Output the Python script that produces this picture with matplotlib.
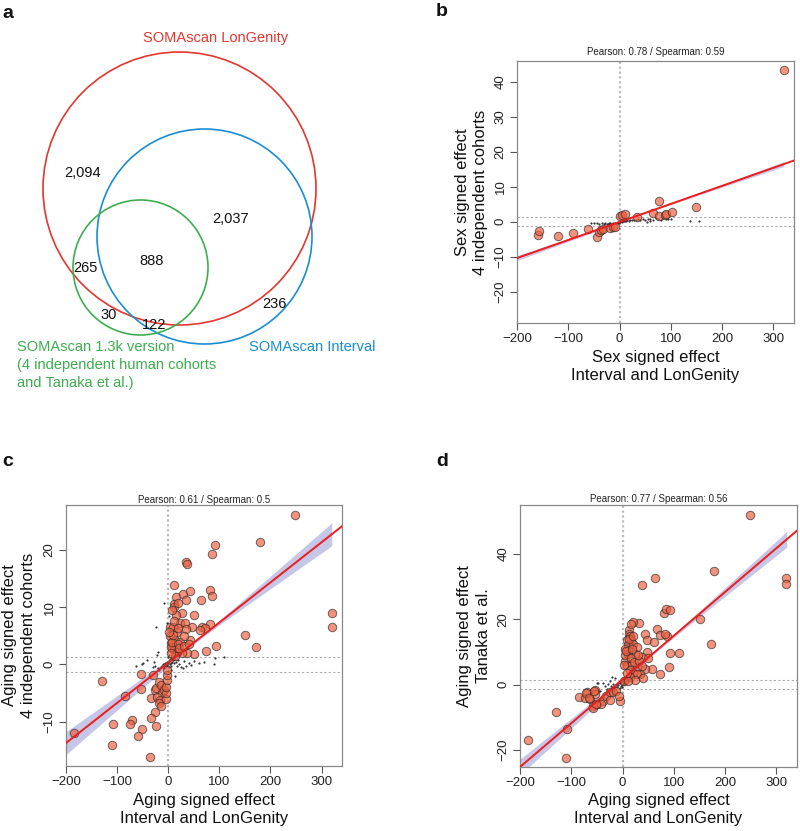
import numpy as np
import matplotlib
matplotlib.use("Agg")
import matplotlib.pyplot as plt
from matplotlib.patches import Circle

plt.rcParams['font.family'] = ['Liberation Sans', 'DejaVu Sans']

W, H = 800, 831

# ---------------- Data ----------------
venn_counts = {"2,094": "L", "2,037": "LI", "888": "LIS", "265": "LS", "30": "S", "122": "IS", "236": "I"}
venn_labels = ["SOMAscan LonGenity", "SOMAscan Interval",
               "SOMAscan 1.3k version\n(4 independent human cohorts\nand Tanaka et al.)"]

# Panel b: sex signed effect
b_sig_x = [320, -160, -157, -120, -90, -62, -45, -41, -37, -32, -19, -13, -9, 0, 5, 10, 33, 66, 76, 77, 88, 91, 102, 149]
b_sig_y = [43.4, -3.7, -2.8, -4.0, -3.2, -2.1, -4.4, -2.9, -2.3, -2.1, -1.8, -1.6, -1.4, 1.5, 1.9, 2.1, 1.3, 2.5, 5.8, 1.7, 1.8, 2.2, 2.8, 4.3]
b_ns_x = [-55, -50, -45, -40, -35, -30, -28, -25, -22, -20, -18, -15, -12, -10, -8, -6, -4, -2, 0, 2, 4, 6, 8, 10,
          12, 15, 18, 20, 24, 28, 32, 36, 40, 45, 50, 55, 60, 65, 70, 75, 80, 85, 90, 95, 100, 137, 155, 53, 59]
b_ns_y = [-0.3, -0.5, -0.4, -0.6, -0.5, -0.7, -0.4, -0.6, -0.8, -0.5, -0.3, -0.6, -0.4, -0.7, -0.3, -0.5, -0.2, -0.4,
          -0.1, 0.1, 0.0, 0.2, 0.1, 0.3, 0.2, 0.4, 0.3, 0.5, 0.4, 0.6, 0.5, 0.7, 0.6, 0.8, 0.5, 0.9, 0.7, 0.4, 1.0,
          0.8, 0.6, 1.1, 0.9, 0.7, 0.8, 0.3, 0.3, 0.0, 0.1]
b_title = "Pearson: 0.78 / Spearman: 0.59"
b_fit = (-0.07, 0.0517)        # intercept, slope
b_band = (0.15, 0.7)           # half width at centre, at ends

# Panel c: aging, 4 independent cohorts
c_sig_x = [249, 180, 92, 85, 34, 37, 11, 16, 28, 43, 81, 86, 64, 34, 11, 12, 26, 50, 16, 24, 32, 81, 67, 71, 46, 62,
           3, 9, 17, 34, 14, 24, 43, 150, 3, 6, 8, 93, 172, 73, 50, 37, 27, 11, 17, 14, 320, 320,
           -30, -53, -130, -54, -85, -33, -26, -24, -19, -15, -12, -9, -22, -17, -19, -15, -25, -34, -24, -4, -4, -5,
           -2, -2, -3, -71, -74, -109, -52, -60, -185, -110, -36,
           5, 8, 10, 19, 22, 30, 40, 12, 20, 5, 30, 2, 7, 20]
c_sig_y = [26.1, 21.3, 20.8, 19.2, 17.9, 17.6, 13.8, 11.8, 12.2, 12.8, 12.9, 12.0, 11.3, 11.2, 10.5, 10.1, 9.0, 8.7,
           8.7, 7.3, 7.2, 7.0, 6.6, 6.3, 6.6, 6.0, 6.5, 6.6, 5.7, 6.2, 4.3, 4.0, 4.3, 5.1, 4.9, 3.7, 2.8, 3.2, 3.1,
           2.4, 1.8, 2.0, 2.0, 2.5, 2.2, 1.4, 9.0, 6.6,
           -1.9, -1.6, -2.9, -4.2, -5.5, -5.9, -4.4, -4.1, -3.0, -3.6, -5.0, -4.4, -5.6, -6.2, -6.7, -7.3, -8.3, -9.4,
           -10.7, -6.1, -5.0, -3.9, -2.7, -1.8, -0.9, -9.6, -10.4, -10.4, -11.3, -12.4, -12.0, -14.0, -16.2,
           3.0, 4.0, 5.2, 3.5, 2.8, 3.3, 3.6, 7.5, 6.4, 2.0, 5.0, 5.7, 9.5, 10.8]
c_ns_x = [-9, -24, 1, -2, -20, -22, -41, -64, -49, -52, 89, 91, 110, 29, 13,
          -15, -12, -10, -8, -6, -5, -3, -2, 0, 1, 2, 3, 4, 5, 6, 7, 8, 10, 12, 14, 16, 18, 20, 22, 25,
          -18, -20, -25, -30, -28, 0, 2, -1, 5, 30, 35, 40, 45, 50, 60, 70]
c_ns_y = [10.8, 6.5, 8.5, 7.2, 2.1, 1.6, 0.7, -0.2, 0.2, 0.1, 0.0, 1.2, 1.3, -0.7, -2.0,
          -0.5, -0.2, 0.0, -0.6, 0.3, -0.3, 0.5, -0.1, 0.2, -0.4, 0.6, 0.0, 0.9, 0.3, -0.2, 1.1, 0.5, 0.8, 0.2,
          1.0, 0.4, -0.3, 0.7, 0.1, -0.5, -1.0, -0.7, -0.2, -0.4, 0.4, 1.3, 1.6, -1.2, -1.0, 0.6, -0.2, 0.3,
          -0.1, 0.6, 0.2, 0.4]
c_title = "Pearson: 0.61 / Spearman: 0.5"
c_fit = (0.3, 0.070)
c_band = (0.3, 2.0)

# Panel d: aging, Tanaka et al.
d_sig_x = [248.5, 179, 319, 319, 64, 37, 81, 84.6, 92, 150, 172, 109, 92, 90, 73, 57, 68, 73.5, 86, 82.6, 32.5, 21,
           43.6, 48, 61, 47, 38, 50, 43.6, 34,
           12.4, 11.7, 14.3, 16.9, 7.8, 11, 20.8, 27.3, 24, 10.4, 4.6, 7.8, 17.6, 27.3, 14.3, 20.8, 9.8, 5.2, 15.6,
           22.8, 32.5, 37.7, 28.6, 14.3, 16, 12, 5, 3, 8, 2, 25, 40, 10, 30, 20, 6, 18,
           -185, -130, -109, -110.6, -84.6, -73.5, -64, -57, -70, -54, -54, -71.6, -56, -66, -58.6, -49.6, -38,
           -32.6, -24.8, -24.8, -19.6, -13.8, -5.3, -7.2, -42, -52]
d_sig_y = [52, 34.8, 32.6, 30.7, 32.8, 30.4, 22, 23.3, 23, 20, 12.6, 9.8, 9.8, 5.4, 3.2, 4.7, 17, 15.1, 15, 15.6,
           18.9, 19.1, 15.4, 13.6, 13.1, 10, 8.5, 8.2, 4.7, 3.4,
           16.8, 15.6, 14.8, 13.6, 13.6, 12.0, 12.3, 11.5, 9.5, 9.5, 7.4, 5.9, 6.4, 5.4, 4.4, 3.6, 10.5, 9.0, 8.3,
           6.9, 7.4, 5.6, 3.4, 2.3, 18.5, 14, 11, 6, 3.5, 1, 1.5, 2, 1.2, 9, 15, 10.3, 10.8,
           -17, -8.4, -13.5, -22.3, -3.9, -4.1, -4.3, -6.6, -2.2, -1.7, -3.0, -2.6, -2.0, -4.2, -7.0, -6.0, -5.1,
           -3.4, -4.8, -2.3, -2.3, -2.0, -5.1, -3.4, -6.0, -5.8]
d_ns_x = [-38, -35, -30, -28, -25, -22, -20, -18, -16, -14, -12, -10, -9, -8, -6, -5, -4, -3, -2, -1, 0, 1, 2, 3,
          4, 5, 6, 7, 8, 10, -50, -45, -15, -20, 12, 15, -25, -48]
d_ns_y = [0.5, -0.5, -1.2, 0.2, -1.6, -0.4, -1.0, 0.3, -0.6, -1.3, 0.0, -0.8, 0.6, -0.2, -1.0, 0.4, -0.4, 1.0, 0.0,
          -0.6, 0.5, 1.2, 0.2, 1.8, 0.8, 2.3, 1.4, 0.4, 1.9, 1.0, 0.5, -2.0, 1.9, 2.3, 2.5, 1.6, 1.0, 0.4]
d_title = "Pearson: 0.77 / Spearman: 0.56"
d_fit = (1.6, 0.134)
d_band = (0.4, 2.4)

x_ticks = [-200, -100, 0, 100, 200, 300]
b_yticks = [-20, -10, 0, 10, 20, 30, 40]
c_yticks = [-10, 0, 10, 20]
d_yticks = [-20, 0, 20, 40]
sig_thr = 1.3

# ---------------- Figure ----------------
fig = plt.figure(figsize=(W / 100, H / 100), dpi=100)

def fx(x):
    return x / W

def fy(y):
    return 1 - y / H

# Background axes in pixel coordinates for the Venn diagram
bg = fig.add_axes([0, 0, 1, 1])
bg.set_xlim(0, W)
bg.set_ylim(H, 0)
bg.axis('off')

red_c, blue_c, green_c = '#E2372F', '#1A8DD3', '#3DAE4F'
circles = [((179.5, 188.5), 136.5, red_c), ((204.5, 236.5), 107.5, blue_c), ((140.5, 267.5), 67.5, green_c)]
for (cx, cy), r, col in circles:
    bg.add_patch(Circle((cx, cy), r, fill=False, edgecolor=col, lw=1.2))

count_pos = [(83, 173), (231, 219), (152, 261), (85, 268), (109, 315), (154, 325), (274, 304)]
for (lab, _), (px, py) in zip(venn_counts.items(), count_pos):
    bg.text(px, py, lab, ha='center', va='center', fontsize=10.5, color='#111111')

bg.text(216, 38, venn_labels[0], ha='center', va='center', fontsize=10.5, color=red_c)
bg.text(312, 347, venn_labels[1], ha='center', va='center', fontsize=10.5, color=blue_c)
bg.text(17, 365, venn_labels[2], ha='left', va='center', fontsize=10.5, color=green_c, linespacing=1.33)

for lab, (px, py) in zip(['a', 'b', 'c', 'd'], [(8, 13), (442, 12), (8, 462), (442, 461)]):
    bg.text(px, py, lab, ha='center', va='center', fontsize=14, fontweight='bold', color='#111111')


def scatter_panel(rect, sx, sy, nx, ny, fit, band, yticks, xlim, ylim, title, xlabel, ylabel,
                  ylab_x, xlab_y, title_y):
    l, t, r, b = rect
    ax = fig.add_axes([fx(l), fy(b), fx(r - l), (b - t) / H])
    ax.set_xlim(*xlim)
    ax.set_ylim(*ylim)
    # reference lines
    ax.axvline(0, color='#BBBBBB', lw=1.6, ls=(0, (1, 1.2)), zorder=1)
    for yv in (sig_thr, -sig_thr):
        ax.axhline(yv, color='#AAAAAA', lw=0.8, ls=(0, (2, 2)), zorder=1)
    # confidence band and fit
    xs = np.linspace(-200, 320, 200)
    hw = np.sqrt(band[0] ** 2 + (band[1] ** 2 - band[0] ** 2) * ((xs - 60) / 260) ** 2)
    yfit = fit[0] + fit[1] * xs
    ax.fill_between(xs, yfit - hw, yfit + hw, color='#B4B4E0', alpha=0.75, lw=0, zorder=2)
    # points
    ax.scatter(nx, ny, s=2.5, color='#333333', lw=0, zorder=3)
    ax.scatter(sx, sy, s=37, facecolor='#EE5F3F', alpha=0.68, edgecolor='#2a2a2a', lw=0.7, zorder=4)
    xl = np.array(xlim)
    ax.plot(xl, fit[0] + fit[1] * xl, color='#EE1C1C', lw=1.4, zorder=5)

    ax.set_xticks(x_ticks)
    ax.set_yticks(yticks)
    ax.set_xticklabels([f"{v}".replace('-', '\u2212') for v in x_ticks])
    ax.set_yticklabels([f"{v}".replace('-', '\u2212') for v in yticks], rotation=90, va='center')
    ax.tick_params(direction='out', length=5, width=0.8, color='#555555', labelsize=9.5,
                   labelcolor='#222222', pad=2.5)
    for sp in ax.spines.values():
        sp.set_color('#888888')
        sp.set_linewidth(0.9)
    fig.text(fx((l + r) / 2), fy(title_y), title, ha='center', va='center', fontsize=7, color='#222222')
    fig.text(fx((l + r) / 2), fy(xlab_y), xlabel, ha='center', va='center', fontsize=12,
             color='#111111', linespacing=1.25)
    fig.text(fx(ylab_x), fy((t + b) / 2), ylabel, ha='center', va='center', rotation=90, fontsize=12,
             color='#111111', linespacing=1.25)
    return ax


scatter_panel((517, 61, 794, 323), b_sig_x, b_sig_y, b_ns_x, b_ns_y, b_fit, b_band, b_yticks,
              (-200, 340), (-29, 46), b_title,
              "Sex signed effect\nInterval and LonGenity", "Sex signed effect\n4 independent cohorts",
              471, 366, 52)
scatter_panel((66, 505, 342, 766), c_sig_x, c_sig_y, c_ns_x, c_ns_y, c_fit, c_band, c_yticks,
              (-200, 340), (-17.7, 27.8), c_title,
              "Aging signed effect\nInterval and LonGenity", "Aging signed effect\n4 independent cohorts",
              19, 809, 500)
scatter_panel((520, 505, 797, 767), d_sig_x, d_sig_y, d_ns_x, d_ns_y, d_fit, d_band, d_yticks,
              (-200, 340), (-25.2, 55), d_title,
              "Aging signed effect\nInterval and LonGenity", "Aging signed effect\nTanaka et al.",
              474, 809, 499)

fig.savefig("out.png", dpi=100)
